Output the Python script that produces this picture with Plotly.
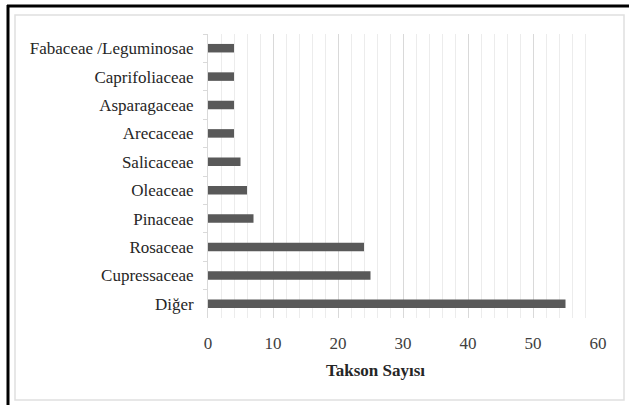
import plotly.graph_objects as go

# Families listed top to bottom, with taxon counts
families = ["Fabaceae /Leguminosae", "Caprifoliaceae", "Asparagaceae", "Arecaceae",
            "Salicaceae", "Oleaceae", "Pinaceae", "Rosaceae", "Cupressaceae", "Diğer"]
counts = [4, 4, 4, 4, 5, 6, 7, 24, 25, 55]
x_ticks = [0, 10, 20, 30, 40, 50, 60]
x_title = "Takson Sayısı"

W, H = 629, 405
L, R, T, B = 208, 598, 34, 318

def px(x):
    return (x - L) / (R - L)

def py(y):
    return (B - y) / (B - T)

fig = go.Figure(go.Bar(
    y=families, x=counts, orientation="h",
    marker=dict(color="#595959", line=dict(width=0)),
    width=0.3,
))

serif = "Liberation Serif"

fig.update_layout(
    width=W, height=H,
    margin=dict(l=L, r=W - R, t=T, b=H - B),
    paper_bgcolor="white", plot_bgcolor="white",
    showlegend=False,
    font=dict(family=serif, size=17, color="#404040"),
    xaxis=dict(
        range=[0, 60], tickvals=x_ticks, showgrid=True, gridcolor="#d9d9d9", gridwidth=1,
        minor=dict(dtick=2, showgrid=True, gridcolor="#ececec", gridwidth=1),
        zeroline=False, showline=False, ticks="",
        ticklabelstandoff=13,
        tickfont=dict(family=serif, size=17, color="#404040"),
        fixedrange=True,
    ),
    yaxis=dict(
        autorange="reversed", showgrid=False, showline=True, linecolor="#d9d9d9", linewidth=1,
        ticks="outside", tickson="boundaries", ticklen=4, tickcolor="#d9d9d9",
        ticklabelstandoff=10,
        tickfont=dict(family=serif, size=17, color="#262626"),
        fixedrange=True,
    ),
    annotations=[
        dict(text="<b>" + x_title + "</b>", xref="paper", yref="paper",
             x=px(375), y=py(370), xanchor="center", yanchor="middle", showarrow=False,
             font=dict(family=serif, size=17, color="#262626")),
    ],
    shapes=[
        # inner light frame
        dict(type="rect", xref="paper", yref="paper",
             x0=px(15), x1=px(624), y0=py(400), y1=py(15),
             line=dict(color="#e0e0e0", width=1.5), layer="below"),
        # heavy black edges on left and top
        dict(type="line", xref="paper", yref="paper",
             x0=px(8), x1=px(8), y0=py(405), y1=py(5),
             line=dict(color="black", width=3)),
        dict(type="line", xref="paper", yref="paper",
             x0=px(7), x1=px(629), y0=py(6), y1=py(6),
             line=dict(color="black", width=3)),
    ],
)

fig.write_html("out.html")
